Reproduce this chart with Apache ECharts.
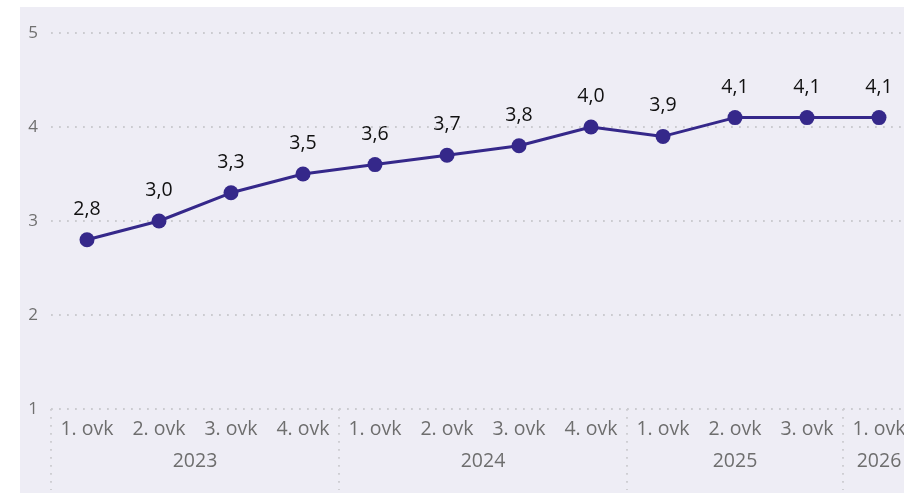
<!DOCTYPE html>
<html><head><meta charset="utf-8">
<script src="https://cdn.jsdelivr.net/npm/echarts@6/dist/echarts.min.js"></script>
<style>html,body{margin:0;padding:0;background:#fff}#c{width:904px;height:493px}</style>
</head><body><div id="c"></div>
<script>
const quarters = ['1. ovk','2. ovk','3. ovk','4. ovk','1. ovk','2. ovk','3. ovk','4. ovk','1. ovk','2. ovk','3. ovk','1. ovk'];
const years = ['2023','2024','2025','2026'];
const yearCounts = [4,4,3,1];
const values = [2.8,3.0,3.3,3.5,3.6,3.7,3.8,4.0,3.9,4.1,4.1,4.1];
const yTicks = [1,2,3,4,5];

const N = quarters.length;
const half = new Array(2*N+1).fill('');
const boundaries = new Set();
let start = 0;
years.forEach((y,i)=>{ boundaries.add(2*start); half[2*start + yearCounts[i]] = y; start += yearCounts[i]; });

const font = '"Open Sans", "Noto Sans", sans-serif';
const dotted = {type:[1.8,6.2], color:'#cbcbd0', width:1.8};
const chart = echarts.init(document.getElementById('c'));
chart.setOption({
  backgroundColor:'#fff',
  animation:false,
  graphic:[{type:'rect', z:-10, shape:{x:20,y:7,width:900,height:490}, style:{fill:'#eeedf5'}}],
  grid:{left:51, top:33, width:864, height:376, containLabel:false, outerBoundsMode:'none'},
  xAxis:[{
    type:'category', data:quarters, boundaryGap:true, position:'bottom',
    axisLine:{show:false}, axisTick:{show:false},
    axisLabel:{color:'#6e6e6e', fontSize:19.5, fontFamily:font, margin:10, interval:0, hideOverlap:false}
  },{
    type:'category', data:half, boundaryGap:false, position:'bottom',
    axisLine:{show:false},
    axisTick:{show:true, length:81, interval:(i)=>boundaries.has(i), lineStyle:dotted},
    axisLabel:{color:'#6e6e6e', fontSize:19.5, fontFamily:font, margin:42, interval:0, hideOverlap:false, formatter:v=>v}
  }],
  yAxis:{
    type:'value', min:yTicks[0], max:yTicks[yTicks.length-1], interval:1,
    axisLine:{show:false}, axisTick:{show:false},
    axisLabel:{color:'#707070', fontSize:17, fontFamily:font, margin:13},
    splitLine:{show:true, lineStyle:dotted}
  },
  series:[{
    type:'line', data:values, xAxisIndex:0,
    symbol:'circle', symbolSize:15,
    lineStyle:{color:'#35288a', width:3},
    itemStyle:{color:'#35288a'},
    label:{show:true, position:'top', distance:13, color:'#111', fontSize:19.5, fontFamily:font,
      formatter:p=>p.value.toFixed(1).replace('.',',')}
  }]
});
</script></body></html>
